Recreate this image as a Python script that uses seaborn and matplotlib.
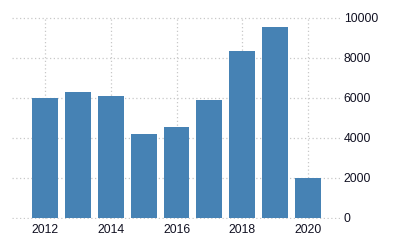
import matplotlib
matplotlib.use("Agg")
import matplotlib.pyplot as plt
import seaborn as sns
import pandas as pd

years = ["2012", "2013", "2014", "2015", "2016", "2017", "2018", "2019", "2020"]
values = [5990, 6280, 6080, 4190, 4540, 5890, 8330, 9530, 1990]
x_tick_labels = ["2012", "2014", "2016", "2018", "2020"]
y_ticks = [0, 2000, 4000, 6000, 8000, 10000]

sns.set_style("white")
plt.rcParams["font.family"] = ["Liberation Sans", "DejaVu Sans"]

df = pd.DataFrame({"year": years, "value": values})

fig = plt.figure(figsize=(4, 2.5), dpi=100)
ax = fig.add_axes([0.03, 0.1232, 0.8225, 0.81])

sns.barplot(data=df, x="year", y="value", order=years, color="#4682B4",
            saturation=1, width=0.79, linewidth=0, edgecolor="none",
            ax=ax, zorder=2)

ax.set_xlim(-1, 9)
ax.set_ylim(-60, 10040)
ax.set_yticks(y_ticks)
ax.set_yticklabels([str(v) for v in y_ticks])
ax.set_xticks([years.index(y) for y in x_tick_labels])
ax.set_xticklabels(x_tick_labels)

ax.yaxis.tick_right()
ax.tick_params(axis="y", length=0, pad=2, labelsize=8.8, labelcolor="#111122")
ax.tick_params(axis="x", length=0, pad=3.5, labelsize=8.8, labelcolor="#111122")

ax.grid(True, axis="both", linestyle=(0, (1, 2)), color="#c8c8c8", linewidth=0.9, zorder=0)
ax.set_axisbelow(True)
for s in ax.spines.values():
    s.set_visible(False)
ax.set_xlabel("")
ax.set_ylabel("")

fig.savefig("out.png", dpi=100)
